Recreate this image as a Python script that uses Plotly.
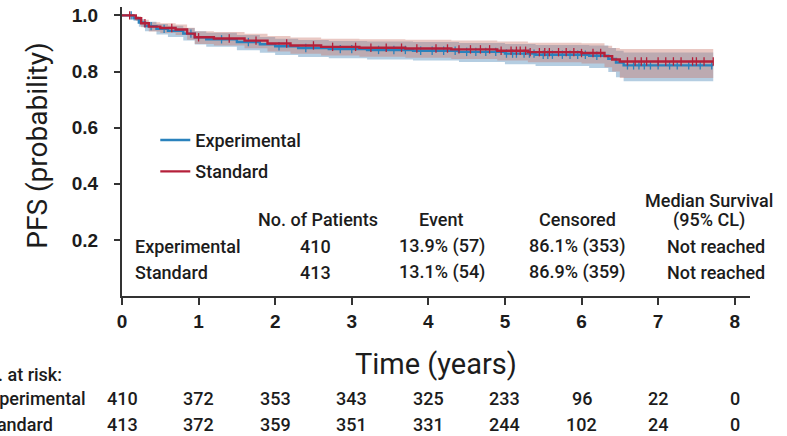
import numpy as np
import plotly.graph_objects as go

# Kaplan-Meier step estimates (time in years, survival probability)
exp_t = [0, 0.15, 0.22, 0.3, 0.45, 0.6, 0.8, 0.95, 1.1, 1.5, 1.8, 2.0, 2.3, 2.7, 3.2, 3.8, 4.4, 5.0, 5.4, 6.1, 6.35, 6.45, 6.55]
exp_s = [1.0, 0.99, 0.975, 0.962, 0.952, 0.945, 0.935, 0.922, 0.915, 0.905, 0.897, 0.89, 0.884, 0.88, 0.877, 0.874, 0.87, 0.864, 0.86, 0.856, 0.845, 0.832, 0.822]
exp_lo = [1.0, 0.98, 0.96, 0.944, 0.932, 0.923, 0.911, 0.896, 0.888, 0.876, 0.867, 0.859, 0.852, 0.847, 0.843, 0.839, 0.834, 0.826, 0.82, 0.813, 0.798, 0.78, 0.765]
exp_hi = [1.0, 0.997, 0.987, 0.977, 0.969, 0.963, 0.955, 0.944, 0.938, 0.93, 0.923, 0.917, 0.912, 0.909, 0.907, 0.905, 0.902, 0.898, 0.895, 0.893, 0.884, 0.874, 0.868]
exp_end = 7.72

std_t = [0, 0.18, 0.25, 0.35, 0.5, 0.7, 0.85, 0.95, 1.2, 1.6, 1.9, 2.2, 2.6, 3.1, 3.7, 4.3, 4.9, 5.3, 6.0, 6.3, 6.4, 6.5]
std_s = [1.0, 0.99, 0.972, 0.96, 0.955, 0.95, 0.935, 0.922, 0.918, 0.91, 0.9, 0.893, 0.888, 0.885, 0.882, 0.879, 0.874, 0.869, 0.866, 0.855, 0.843, 0.836]
std_lo = [1.0, 0.98, 0.958, 0.943, 0.937, 0.93, 0.913, 0.898, 0.893, 0.883, 0.871, 0.863, 0.857, 0.853, 0.849, 0.845, 0.839, 0.833, 0.829, 0.815, 0.8, 0.777]
std_hi = [1.0, 0.997, 0.985, 0.976, 0.972, 0.968, 0.956, 0.944, 0.941, 0.935, 0.927, 0.921, 0.917, 0.915, 0.913, 0.911, 0.907, 0.903, 0.901, 0.892, 0.884, 0.88]
std_end = 7.72

# Censoring times
exp_cens = [0.12, 0.38, 0.55, 0.9, 1.3, 1.65, 2.05, 2.4, 2.85, 3.0, 3.35, 3.55, 3.7, 3.9, 4.05, 4.2, 4.35,
            4.5, 4.62, 4.75, 4.88, 5.02, 5.1, 5.15, 5.25, 5.32, 5.38, 5.5, 5.56, 5.62, 5.75, 5.85, 5.95,
            6.05, 6.2, 6.6, 6.68, 6.75, 6.82, 6.9, 7.0, 7.15, 7.25, 7.4, 7.55, 7.7]
std_cens = [0.1, 0.3, 0.65, 1.0, 1.4, 1.75, 2.15, 2.5, 2.75, 3.05, 3.25, 3.45, 3.65, 3.85, 4.1, 4.25,
            4.4, 4.55, 4.68, 4.8, 4.95, 5.08, 5.15, 5.2, 5.27, 5.33, 5.45, 5.52, 5.58, 5.7, 5.8, 5.9,
            6.0, 6.15, 6.25, 6.6, 6.7, 6.78, 6.85, 7.0, 7.1, 7.2, 7.3, 7.45, 7.5, 7.6, 7.72]

# Number at risk
risk_years = [0, 1, 2, 3, 4, 5, 6, 7, 8]
exp_risk = [410, 372, 353, 343, 325, 233, 96, 22, 0]
std_risk = [413, 372, 359, 351, 331, 244, 102, 24, 0]

# Summary table
groups = ["Experimental", "Standard"]
n_patients = ["410", "413"]
events = ["13.9% (57)", "13.1% (54)"]
censored = ["86.1% (353)", "86.9% (359)"]
median = ["Not reached", "Not reached"]

BLUE = "#2a82bd"
RED = "#b5203a"
BLUE_BAND = "rgba(68,130,180,0.40)"
RED_BAND = "rgba(200,118,105,0.40)"
DARK = "#1c1c1c"
NARROW = "Roboto, Liberation Sans, Arial, sans-serif"
SANS = "Liberation Sans, Arial, sans-serif"
MEDIUM = dict(family="Roboto, Liberation Sans, Arial, sans-serif", size=18, color=DARK, weight=500)

PX0, PXW = 122, 628  # plot-area left edge and width, for paper-referenced labels


def extend(t, v, end):
    return list(t) + [end], list(v) + [v[-1]]


def step_value(t, s, x):
    idx = np.searchsorted(np.asarray(t), np.asarray(x), side="right") - 1
    return np.asarray(s)[idx]


def xpaper(px):
    return (px - PX0) / PXW


fig = go.Figure()

# confidence bands
for t, lo, hi, end, band in [
    (exp_t, exp_lo, exp_hi, exp_end, BLUE_BAND),
    (std_t, std_lo, std_hi, std_end, RED_BAND),
]:
    tx, lo_x = extend(t, lo, end)
    _, hi_x = extend(t, hi, end)
    fig.add_trace(go.Scatter(x=tx, y=lo_x, mode="lines", line=dict(width=0, shape="hv"),
                             showlegend=False, hoverinfo="skip"))
    fig.add_trace(go.Scatter(x=tx, y=hi_x, mode="lines", line=dict(width=0, shape="hv"),
                             fill="tonexty", fillcolor=band, showlegend=False, hoverinfo="skip"))

# survival curves with censoring ticks
for t, s, end, cens, col, name, grp in [
    (exp_t, exp_s, exp_end, exp_cens, BLUE, "Experimental", "e"),
    (std_t, std_s, std_end, std_cens, RED, "Standard", "s"),
]:
    tx, s_x = extend(t, s, end)
    fig.add_trace(go.Scatter(x=tx, y=s_x, mode="lines", name=name, legendgroup=grp,
                             line=dict(color=col, width=2.4, shape="hv")))
    fig.add_trace(go.Scatter(x=cens, y=step_value(t, s, cens), mode="markers",
                             legendgroup=grp, showlegend=False,
                             marker=dict(symbol="line-ns", size=6,
                                         line=dict(color=col, width=1.3))))

ann = []
# summary table inside the plot
ann.append(dict(x=2.56, y=0.272, text="No. of Patients"))
ann.append(dict(x=4.16, y=0.272, text="Event"))
ann.append(dict(x=5.95, y=0.272, text="Censored"))
ann.append(dict(x=7.66, y=0.34, text="Median Survival"))
ann.append(dict(x=7.66, y=0.272, text="(95% CL)"))
for i, yv in enumerate([0.177, 0.085]):
    ann.append(dict(x=0.14, y=yv, text=groups[i], xanchor="left"))
    ann.append(dict(x=2.53, y=yv, text=n_patients[i]))
    ann.append(dict(x=4.18, y=yv, text=events[i]))
    ann.append(dict(x=5.95, y=yv, text=censored[i]))
    ann.append(dict(x=7.75, y=yv, text=median[i]))
for a in ann:
    a.update(xref="x", yref="y", showarrow=False, font=MEDIUM, yanchor="middle")
    a.setdefault("xanchor", "center")

# axis titles
ann.append(dict(x=xpaper(436), y=-0.237, xref="paper", yref="paper", text="Time (years)",
                showarrow=False, xanchor="center", yanchor="middle",
                font=dict(family=NARROW, size=29, color=DARK)))
ann.append(dict(x=xpaper(38), y=0.52, xref="paper", yref="paper", text="PFS (probability)",
                textangle=-90, showarrow=False, xanchor="center", yanchor="middle",
                font=dict(family=NARROW, size=28, color=DARK)))

# number-at-risk table (row labels start left of the page edge)
ann.append(dict(x=xpaper(-27), y=-0.272, xref="paper", yref="paper", text="No. at risk:",
                xanchor="left", yanchor="middle", showarrow=False, font=MEDIUM))
for lbl, row, yv in [("Experimental", exp_risk, -0.354), ("Standard", std_risk, -0.443)]:
    ann.append(dict(x=xpaper(-22), y=yv, xref="paper", yref="paper", text=lbl, xanchor="left",
                    yanchor="middle", showarrow=False, font=MEDIUM))
    for yr, n in zip(risk_years, row):
        ann.append(dict(x=yr, y=yv, xref="x", yref="paper", text=str(n), showarrow=False,
                        xanchor="center", yanchor="middle", font=MEDIUM))

tickfont = dict(family=SANS, size=19, color=DARK, weight="bold")
fig.update_layout(
    width=787, height=436,
    margin=dict(l=PX0, r=787 - PX0 - PXW, t=5, b=140),
    paper_bgcolor="white", plot_bgcolor="white",
    annotations=ann,
    legend=dict(x=0.053, y=0.603, xanchor="left", yanchor="top", bgcolor="rgba(0,0,0,0)",
                font=MEDIUM, tracegroupgap=5),
    xaxis=dict(range=[0, 8.2], tickvals=risk_years, ticks="outside", ticklen=7, tickwidth=2,
               tickcolor="#333", showline=True, linewidth=2, linecolor="#333", showgrid=False,
               zeroline=False, tickfont=tickfont, ticklabelstandoff=0),
    yaxis=dict(range=[0, 1.03], tickvals=[0.2, 0.4, 0.6, 0.8, 1.0],
               ticktext=["0.2", "0.4", "0.6", "0.8", "1.0"], ticks="outside", ticklen=6,
               tickwidth=2, tickcolor="#333", showline=True, linewidth=2, linecolor="#333",
               showgrid=False, zeroline=False, tickfont=tickfont, ticklabelstandoff=12),
)

fig.write_html("out.html")
